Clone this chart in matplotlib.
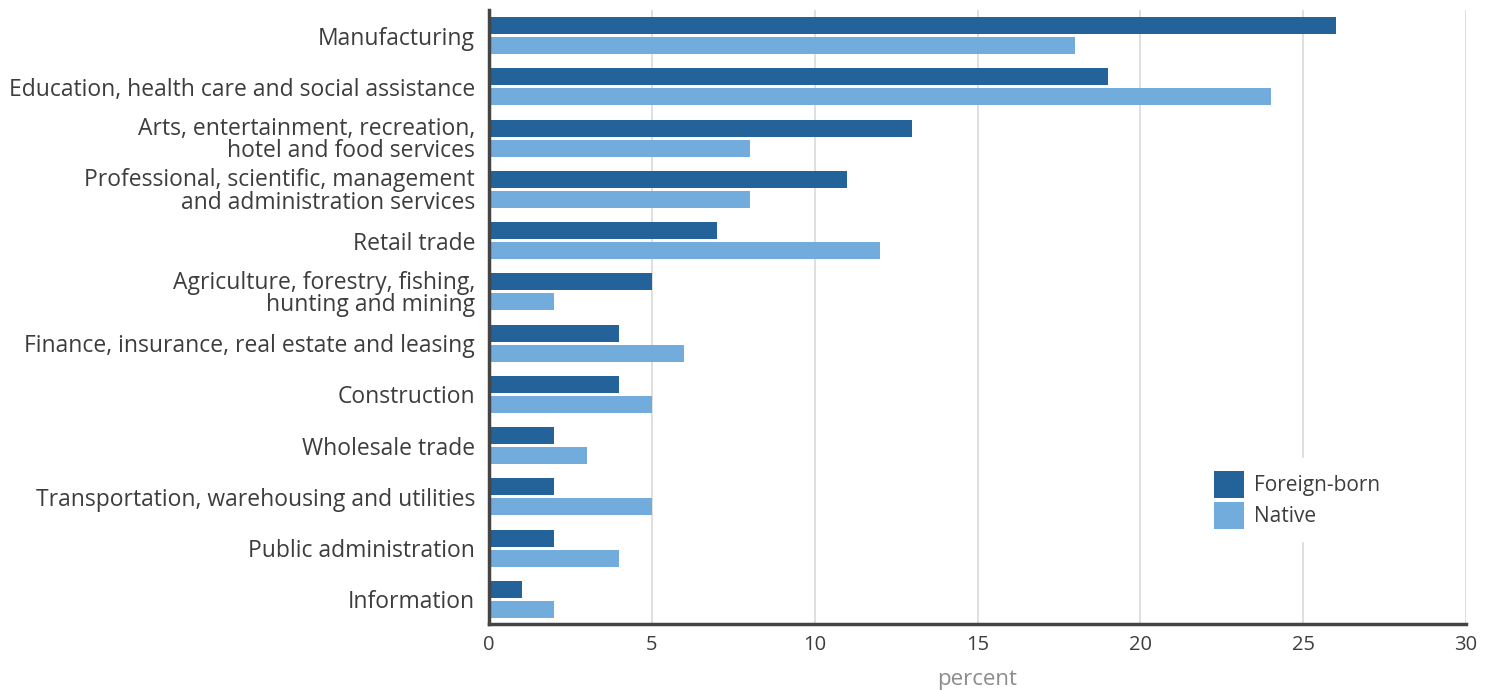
import numpy as np
import matplotlib
matplotlib.use("Agg")
import matplotlib.pyplot as plt

plt.rcParams['font.family'] = ['Open Sans', 'DejaVu Sans']

industries = [
    "Manufacturing",
    "Education, health care and social assistance",
    "Arts, entertainment, recreation,\nhotel and food services",
    "Professional, scientific, management\nand administration services",
    "Retail trade",
    "Agriculture, forestry, fishing,\nhunting and mining",
    "Finance, insurance, real estate and leasing",
    "Construction",
    "Wholesale trade",
    "Transportation, warehousing and utilities",
    "Public administration",
    "Information",
]
foreign_born = [26, 19, 13, 11, 7, 5, 4, 4, 2, 2, 2, 1]
native = [18, 24, 8, 8, 12, 2, 6, 5, 3, 5, 4, 2]

dark_blue = "#236399"
light_blue = "#72acdc"
text_col = "#3d3d3d"

fig = plt.figure(figsize=(14.94, 6.9), dpi=100)
ax = fig.add_axes([0.3273, 0.0957, 0.654, 0.8898])

y = np.arange(len(industries))
h = 0.33
ax.barh(y - 0.195, foreign_born, height=h, color=dark_blue, label="Foreign-born", zorder=3)
ax.barh(y + 0.195, native, height=h, color=light_blue, label="Native", zorder=3)

ax.set_ylim(len(industries) - 0.52, -0.5)
ax.set_xlim(0, 30)
ax.set_xticks(range(0, 31, 5))
ax.set_yticks(y)
ax.set_yticklabels(industries, fontsize=16.5, color=text_col, linespacing=0.9)
ax.tick_params(axis='x', labelsize=14.5, colors=text_col, length=0, pad=8)
ax.tick_params(axis='y', length=0, pad=10)

ax.grid(axis='x', color="#d9d9d9", linewidth=1.2, zorder=0)
for s in ['top', 'right']:
    ax.spines[s].set_visible(False)
for s in ['left', 'bottom']:
    ax.spines[s].set_color("#444444")
    ax.spines[s].set_linewidth(2.5)
    ax.spines[s].set_zorder(4)

ax.set_xlabel("percent", fontsize=16, color="#8c8c8c", labelpad=10)

# legend sits over the 25% gridline with an opaque white box
leg = ax.legend(loc='lower right', bbox_to_anchor=(0.935, 0.118), frameon=True,
                fontsize=15, handlelength=1.45, handleheight=1.6,
                handletextpad=0.45, labelspacing=0.2, borderpad=0.6)
leg.get_frame().set_edgecolor('white')
leg.get_frame().set_facecolor('white')
leg.get_frame().set_alpha(1)
for t in leg.get_texts():
    t.set_color(text_col)

fig.savefig("out.png", dpi=100)
